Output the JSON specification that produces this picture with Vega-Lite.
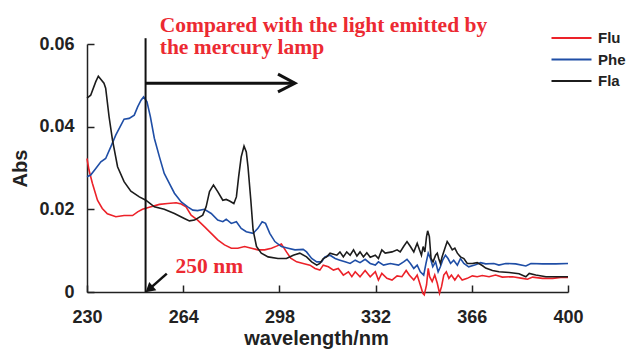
{
  "$schema": "https://vega.github.io/schema/vega-lite/v6.json",
  "width": 481,
  "height": 248,
  "autosize": {"type": "none"},
  "padding": {"left": 87, "top": 44, "right": 59, "bottom": 58},
  "background": "white",
  "config": {
    "view": {"stroke": null},
    "axis": {
      "grid": false, "domainColor": "#222", "domainWidth": 1.5, "tickColor": "#222", "tickWidth": 1.5, "tickSize": -7,
      "labelFlush": false, "labelOverlap": false,
      "labelFont": "Liberation Sans", "labelFontWeight": "bold", "labelFontSize": 18, "labelColor": "#222",
      "titleFont": "Liberation Sans", "titleFontWeight": "bold", "titleFontSize": 20, "titleColor": "#222"
    },
    "legend": {
      "orient": "none", "legendX": 477, "legendY": -13.5, "title": null, "symbolType": "M-5,0H5", "symbolSize": 64,
      "symbolStrokeWidth": 2, "symbolFillColor": "transparent", "labelFont": "Liberation Sans", "labelFontWeight": "bold", "labelFontSize": 15,
      "labelColor": "#222", "labelOffset": 19, "rowPadding": 5.5, "padding": 0
    }
  },
  "encoding": {
    "x": {"field": "wl", "type": "quantitative", "scale": {"domain": [230, 400], "nice": false, "zero": false},
      "axis": {"values": [230, 264, 298, 332, 366, 400], "title": "wavelength/nm", "labelPadding": 23, "titlePadding": 2, "titleX": 229}},
    "y": {"field": "abs", "type": "quantitative", "scale": {"domain": [0, 0.06], "nice": false},
      "axis": {"values": [0, 0.02, 0.04, 0.06], "labelExpr": "datum.value == 0 ? '0' : format(datum.value, '.2f')", "title": "Abs", "titlePadding": 8, "labelPadding": 20}}
  },
  "layer": [
    {
      "data": {"values": [
        {"series":"Flu","wl":230.0,"abs":0.0323},{"series":"Flu","wl":230.7,"abs":0.0295},{"series":"Flu","wl":231.9,"abs":0.0263},{"series":"Flu","wl":233.7,"abs":0.0222},{"series":"Flu","wl":235.4,"abs":0.0202},{"series":"Flu","wl":237.2,"abs":0.0189},{"series":"Flu","wl":240.2,"abs":0.0182},{"series":"Flu","wl":243.1,"abs":0.0185},{"series":"Flu","wl":246.1,"abs":0.0185},{"series":"Flu","wl":247.9,"abs":0.0194},{"series":"Flu","wl":249.6,"abs":0.0200},{"series":"Flu","wl":252.6,"abs":0.0206},{"series":"Flu","wl":255.6,"abs":0.0212},{"series":"Flu","wl":258.5,"abs":0.0214},{"series":"Flu","wl":261.5,"abs":0.0216},{"series":"Flu","wl":263.3,"abs":0.0213},{"series":"Flu","wl":265.0,"abs":0.0206},{"series":"Flu","wl":266.8,"abs":0.0186},{"series":"Flu","wl":269.1,"abs":0.0174},{"series":"Flu","wl":271.5,"abs":0.0158},{"series":"Flu","wl":273.9,"abs":0.0142},{"series":"Flu","wl":276.2,"abs":0.0126},{"series":"Flu","wl":278.6,"abs":0.0114},{"series":"Flu","wl":281.0,"abs":0.0106},{"series":"Flu","wl":283.3,"abs":0.0106},{"series":"Flu","wl":285.7,"abs":0.0110},{"series":"Flu","wl":288.1,"abs":0.0106},{"series":"Flu","wl":290.4,"abs":0.0102},{"series":"Flu","wl":292.8,"abs":0.0102},{"series":"Flu","wl":295.2,"abs":0.0106},{"series":"Flu","wl":297.0,"abs":0.0111},{"series":"Flu","wl":298.7,"abs":0.0116},{"series":"Flu","wl":300.5,"abs":0.0097},{"series":"Flu","wl":302.0,"abs":0.0082},{"series":"Flu","wl":304.1,"abs":0.0073},{"series":"Flu","wl":306.4,"abs":0.0069},{"series":"Flu","wl":308.8,"abs":0.0065},{"series":"Flu","wl":310.6,"abs":0.0057},{"series":"Flu","wl":312.3,"abs":0.0053},{"series":"Flu","wl":313.5,"abs":0.0065},{"series":"Flu","wl":315.3,"abs":0.0061},{"series":"Flu","wl":317.1,"abs":0.0053},{"series":"Flu","wl":318.8,"abs":0.0057},{"series":"Flu","wl":320.6,"abs":0.0041},{"series":"Flu","wl":322.4,"abs":0.0049},{"series":"Flu","wl":323.6,"abs":0.0037},{"series":"Flu","wl":324.8,"abs":0.0049},{"series":"Flu","wl":326.5,"abs":0.0037},{"series":"Flu","wl":328.3,"abs":0.0052},{"series":"Flu","wl":330.1,"abs":0.0037},{"series":"Flu","wl":331.9,"abs":0.0049},{"series":"Flu","wl":333.0,"abs":0.0029},{"series":"Flu","wl":334.2,"abs":0.0045},{"series":"Flu","wl":336.0,"abs":0.0033},{"series":"Flu","wl":337.8,"abs":0.0029},{"series":"Flu","wl":339.6,"abs":0.0039},{"series":"Flu","wl":341.3,"abs":0.0037},{"series":"Flu","wl":342.8,"abs":0.0052},{"series":"Flu","wl":343.9,"abs":0.0041},{"series":"Flu","wl":345.5,"abs":0.0029},{"series":"Flu","wl":346.7,"abs":0.0041},{"series":"Flu","wl":347.8,"abs":0.0017},{"series":"Flu","wl":348.7,"abs":-0.0003},{"series":"Flu","wl":349.2,"abs":-0.0007},{"series":"Flu","wl":350.0,"abs":0.0017},{"series":"Flu","wl":350.6,"abs":0.0057},{"series":"Flu","wl":351.1,"abs":0.0037},{"series":"Flu","wl":352.0,"abs":0.0025},{"series":"Flu","wl":352.9,"abs":0.0041},{"series":"Flu","wl":353.8,"abs":0.0021},{"series":"Flu","wl":354.6,"abs":-0.0003},{"series":"Flu","wl":355.3,"abs":0.0013},{"series":"Flu","wl":356.1,"abs":0.0041},{"series":"Flu","wl":357.0,"abs":0.0049},{"series":"Flu","wl":357.9,"abs":0.0033},{"series":"Flu","wl":358.8,"abs":0.0041},{"series":"Flu","wl":360.0,"abs":0.0029},{"series":"Flu","wl":361.2,"abs":0.0041},{"series":"Flu","wl":362.6,"abs":0.0029},{"series":"Flu","wl":364.4,"abs":0.0033},{"series":"Flu","wl":366.2,"abs":0.0039},{"series":"Flu","wl":367.9,"abs":0.0037},{"series":"Flu","wl":369.7,"abs":0.0040},{"series":"Flu","wl":372.1,"abs":0.0037},{"series":"Flu","wl":374.4,"abs":0.0041},{"series":"Flu","wl":376.8,"abs":0.0036},{"series":"Flu","wl":380.4,"abs":0.0037},{"series":"Flu","wl":383.9,"abs":0.0033},{"series":"Flu","wl":385.7,"abs":0.0031},{"series":"Flu","wl":387.5,"abs":0.0036},{"series":"Flu","wl":391.0,"abs":0.0033},{"series":"Flu","wl":394.6,"abs":0.0033},{"series":"Flu","wl":398.1,"abs":0.0036},{"series":"Flu","wl":400.0,"abs":0.0035},
        {"series":"Phe","wl":230.0,"abs":0.0279},{"series":"Phe","wl":231.3,"abs":0.0283},{"series":"Phe","wl":233.1,"abs":0.0299},{"series":"Phe","wl":234.9,"abs":0.0315},{"series":"Phe","wl":236.6,"abs":0.0323},{"series":"Phe","wl":238.4,"abs":0.0351},{"series":"Phe","wl":240.2,"abs":0.0380},{"series":"Phe","wl":242.0,"abs":0.0404},{"series":"Phe","wl":243.1,"abs":0.0418},{"series":"Phe","wl":244.9,"abs":0.0420},{"series":"Phe","wl":246.7,"abs":0.0428},{"series":"Phe","wl":247.9,"abs":0.0448},{"series":"Phe","wl":249.1,"abs":0.0464},{"series":"Phe","wl":250.0,"abs":0.0472},{"series":"Phe","wl":251.2,"abs":0.0460},{"series":"Phe","wl":252.4,"abs":0.0424},{"series":"Phe","wl":253.8,"abs":0.0372},{"series":"Phe","wl":255.6,"abs":0.0327},{"series":"Phe","wl":257.3,"abs":0.0287},{"series":"Phe","wl":259.1,"abs":0.0263},{"series":"Phe","wl":260.9,"abs":0.0239},{"series":"Phe","wl":263.3,"abs":0.0218},{"series":"Phe","wl":265.6,"abs":0.0206},{"series":"Phe","wl":267.4,"abs":0.0198},{"series":"Phe","wl":269.1,"abs":0.0197},{"series":"Phe","wl":271.5,"abs":0.0200},{"series":"Phe","wl":273.9,"abs":0.0190},{"series":"Phe","wl":276.2,"abs":0.0174},{"series":"Phe","wl":278.0,"abs":0.0170},{"series":"Phe","wl":279.2,"abs":0.0176},{"series":"Phe","wl":281.0,"abs":0.0166},{"series":"Phe","wl":282.8,"abs":0.0170},{"series":"Phe","wl":284.5,"abs":0.0154},{"series":"Phe","wl":286.3,"abs":0.0146},{"series":"Phe","wl":288.7,"abs":0.0142},{"series":"Phe","wl":290.4,"abs":0.0154},{"series":"Phe","wl":291.9,"abs":0.0170},{"series":"Phe","wl":293.1,"abs":0.0166},{"series":"Phe","wl":294.6,"abs":0.0142},{"series":"Phe","wl":296.4,"abs":0.0122},{"series":"Phe","wl":298.7,"abs":0.0110},{"series":"Phe","wl":301.1,"abs":0.0106},{"series":"Phe","wl":303.5,"abs":0.0102},{"series":"Phe","wl":306.4,"abs":0.0103},{"series":"Phe","wl":307.6,"abs":0.0097},{"series":"Phe","wl":309.4,"abs":0.0081},{"series":"Phe","wl":311.2,"abs":0.0073},{"series":"Phe","wl":312.9,"abs":0.0073},{"series":"Phe","wl":314.1,"abs":0.0085},{"series":"Phe","wl":315.9,"abs":0.0089},{"series":"Phe","wl":317.7,"abs":0.0081},{"series":"Phe","wl":319.4,"abs":0.0077},{"series":"Phe","wl":321.2,"abs":0.0073},{"series":"Phe","wl":323.0,"abs":0.0069},{"series":"Phe","wl":324.8,"abs":0.0077},{"series":"Phe","wl":326.5,"abs":0.0071},{"series":"Phe","wl":328.3,"abs":0.0079},{"series":"Phe","wl":330.1,"abs":0.0069},{"series":"Phe","wl":331.9,"abs":0.0065},{"series":"Phe","wl":333.0,"abs":0.0073},{"series":"Phe","wl":334.8,"abs":0.0065},{"series":"Phe","wl":337.2,"abs":0.0069},{"series":"Phe","wl":340.1,"abs":0.0065},{"series":"Phe","wl":341.9,"abs":0.0073},{"series":"Phe","wl":343.1,"abs":0.0079},{"series":"Phe","wl":344.3,"abs":0.0069},{"series":"Phe","wl":345.5,"abs":0.0057},{"series":"Phe","wl":346.7,"abs":0.0065},{"series":"Phe","wl":347.8,"abs":0.0049},{"series":"Phe","wl":349.0,"abs":0.0041},{"series":"Phe","wl":349.8,"abs":0.0069},{"series":"Phe","wl":350.6,"abs":0.0094},{"series":"Phe","wl":351.4,"abs":0.0081},{"series":"Phe","wl":352.2,"abs":0.0061},{"series":"Phe","wl":353.2,"abs":0.0073},{"series":"Phe","wl":354.1,"abs":0.0049},{"series":"Phe","wl":354.9,"abs":0.0061},{"series":"Phe","wl":355.7,"abs":0.0077},{"series":"Phe","wl":356.7,"abs":0.0089},{"series":"Phe","wl":357.6,"abs":0.0081},{"series":"Phe","wl":358.5,"abs":0.0069},{"series":"Phe","wl":359.6,"abs":0.0077},{"series":"Phe","wl":360.9,"abs":0.0065},{"series":"Phe","wl":362.0,"abs":0.0081},{"series":"Phe","wl":363.2,"abs":0.0069},{"series":"Phe","wl":364.9,"abs":0.0061},{"series":"Phe","wl":367.3,"abs":0.0066},{"series":"Phe","wl":369.1,"abs":0.0071},{"series":"Phe","wl":370.9,"abs":0.0068},{"series":"Phe","wl":373.8,"abs":0.0069},{"series":"Phe","wl":375.6,"abs":0.0065},{"series":"Phe","wl":378.0,"abs":0.0069},{"series":"Phe","wl":381.5,"abs":0.0068},{"series":"Phe","wl":385.1,"abs":0.0063},{"series":"Phe","wl":386.9,"abs":0.0069},{"series":"Phe","wl":391.0,"abs":0.0068},{"series":"Phe","wl":395.7,"abs":0.0068},{"series":"Phe","wl":400.0,"abs":0.0069},
        {"series":"Fla","wl":230.0,"abs":0.0469},{"series":"Fla","wl":231.3,"abs":0.0476},{"series":"Fla","wl":233.1,"abs":0.0509},{"series":"Fla","wl":234.0,"abs":0.0522},{"series":"Fla","wl":236.0,"abs":0.0505},{"series":"Fla","wl":236.6,"abs":0.0493},{"series":"Fla","wl":237.8,"abs":0.0424},{"series":"Fla","wl":239.0,"abs":0.0368},{"series":"Fla","wl":240.8,"abs":0.0303},{"series":"Fla","wl":243.1,"abs":0.0267},{"series":"Fla","wl":245.5,"abs":0.0244},{"series":"Fla","wl":248.5,"abs":0.0230},{"series":"Fla","wl":250.8,"abs":0.0222},{"series":"Fla","wl":253.8,"abs":0.0206},{"series":"Fla","wl":257.3,"abs":0.0200},{"series":"Fla","wl":260.9,"abs":0.0190},{"series":"Fla","wl":264.4,"abs":0.0178},{"series":"Fla","wl":266.2,"abs":0.0172},{"series":"Fla","wl":268.0,"abs":0.0174},{"series":"Fla","wl":270.9,"abs":0.0186},{"series":"Fla","wl":272.1,"abs":0.0206},{"series":"Fla","wl":273.3,"abs":0.0243},{"series":"Fla","wl":274.7,"abs":0.0259},{"series":"Fla","wl":276.2,"abs":0.0243},{"series":"Fla","wl":278.0,"abs":0.0222},{"series":"Fla","wl":279.2,"abs":0.0224},{"series":"Fla","wl":280.4,"abs":0.0220},{"series":"Fla","wl":281.9,"abs":0.0214},{"series":"Fla","wl":282.8,"abs":0.0230},{"series":"Fla","wl":283.6,"abs":0.0279},{"series":"Fla","wl":284.5,"abs":0.0327},{"series":"Fla","wl":285.5,"abs":0.0353},{"series":"Fla","wl":286.3,"abs":0.0339},{"series":"Fla","wl":286.9,"abs":0.0303},{"series":"Fla","wl":287.9,"abs":0.0222},{"series":"Fla","wl":288.7,"abs":0.0150},{"series":"Fla","wl":289.9,"abs":0.0110},{"series":"Fla","wl":291.6,"abs":0.0094},{"series":"Fla","wl":294.0,"abs":0.0085},{"series":"Fla","wl":297.5,"abs":0.0081},{"series":"Fla","wl":300.5,"abs":0.0081},{"series":"Fla","wl":302.9,"abs":0.0089},{"series":"Fla","wl":305.2,"abs":0.0094},{"series":"Fla","wl":307.6,"abs":0.0085},{"series":"Fla","wl":309.4,"abs":0.0073},{"series":"Fla","wl":311.2,"abs":0.0065},{"series":"Fla","wl":312.3,"abs":0.0069},{"series":"Fla","wl":313.5,"abs":0.0081},{"series":"Fla","wl":314.7,"abs":0.0085},{"series":"Fla","wl":315.9,"abs":0.0094},{"series":"Fla","wl":318.3,"abs":0.0089},{"series":"Fla","wl":319.4,"abs":0.0097},{"series":"Fla","wl":320.6,"abs":0.0085},{"series":"Fla","wl":321.8,"abs":0.0097},{"series":"Fla","wl":323.0,"abs":0.0089},{"series":"Fla","wl":324.2,"abs":0.0102},{"series":"Fla","wl":325.4,"abs":0.0087},{"series":"Fla","wl":326.5,"abs":0.0097},{"series":"Fla","wl":327.7,"abs":0.0085},{"series":"Fla","wl":328.9,"abs":0.0095},{"series":"Fla","wl":330.1,"abs":0.0084},{"series":"Fla","wl":331.9,"abs":0.0089},{"series":"Fla","wl":333.0,"abs":0.0081},{"series":"Fla","wl":334.2,"abs":0.0102},{"series":"Fla","wl":335.4,"abs":0.0094},{"series":"Fla","wl":337.8,"abs":0.0097},{"series":"Fla","wl":339.6,"abs":0.0102},{"series":"Fla","wl":340.7,"abs":0.0097},{"series":"Fla","wl":341.9,"abs":0.0110},{"series":"Fla","wl":343.1,"abs":0.0122},{"series":"Fla","wl":344.3,"abs":0.0110},{"series":"Fla","wl":345.5,"abs":0.0097},{"series":"Fla","wl":346.7,"abs":0.0118},{"series":"Fla","wl":347.5,"abs":0.0102},{"series":"Fla","wl":348.2,"abs":0.0089},{"series":"Fla","wl":348.8,"abs":0.0110},{"series":"Fla","wl":349.4,"abs":0.0097},{"series":"Fla","wl":350.0,"abs":0.0134},{"series":"Fla","wl":350.4,"abs":0.0148},{"series":"Fla","wl":351.0,"abs":0.0134},{"series":"Fla","wl":351.6,"abs":0.0081},{"series":"Fla","wl":352.3,"abs":0.0073},{"series":"Fla","wl":353.2,"abs":0.0089},{"series":"Fla","wl":353.8,"abs":0.0094},{"series":"Fla","wl":354.3,"abs":0.0081},{"series":"Fla","wl":354.9,"abs":0.0069},{"series":"Fla","wl":355.5,"abs":0.0085},{"series":"Fla","wl":356.5,"abs":0.0106},{"series":"Fla","wl":357.3,"abs":0.0122},{"series":"Fla","wl":358.1,"abs":0.0114},{"series":"Fla","wl":359.1,"abs":0.0102},{"series":"Fla","wl":360.0,"abs":0.0106},{"series":"Fla","wl":360.9,"abs":0.0094},{"series":"Fla","wl":362.0,"abs":0.0085},{"series":"Fla","wl":363.2,"abs":0.0081},{"series":"Fla","wl":364.4,"abs":0.0069},{"series":"Fla","wl":366.2,"abs":0.0069},{"series":"Fla","wl":367.9,"abs":0.0071},{"series":"Fla","wl":369.7,"abs":0.0064},{"series":"Fla","wl":370.9,"abs":0.0058},{"series":"Fla","wl":373.3,"abs":0.0052},{"series":"Fla","wl":375.6,"abs":0.0049},{"series":"Fla","wl":379.2,"abs":0.0047},{"series":"Fla","wl":382.7,"abs":0.0044},{"series":"Fla","wl":385.1,"abs":0.0037},{"series":"Fla","wl":386.3,"abs":0.0045},{"series":"Fla","wl":388.6,"abs":0.0041},{"series":"Fla","wl":392.2,"abs":0.0037},{"series":"Fla","wl":395.7,"abs":0.0037},{"series":"Fla","wl":400.0,"abs":0.0037}
      ]},
      "mark": {"type": "line", "strokeWidth": 1.6},
      "encoding": {
        "color": {"field": "series", "type": "nominal", "scale": {"domain": ["Flu", "Phe", "Fla"], "range": ["#ec2229", "#1f4ea6", "#1c1c1c"]}}
      }
    },
    {
      "data": {"values": [{"wl": 250.7, "abs": 0, "wl2": 250.7, "abs2": 0.0614}]},
      "mark": {"type": "rule", "color": "#111", "strokeWidth": 2},
      "encoding": {"x2": {"field": "wl2"}, "y2": {"field": "abs2"}}
    },
    {
      "data": {"values": [{"wl": 250.7, "abs": 0.0505, "wl2": 303.3, "abs2": 0.0505}]},
      "mark": {"type": "rule", "color": "#111", "strokeWidth": 3},
      "encoding": {"x2": {"field": "wl2"}, "y2": {"field": "abs2"}}
    },
    {
      "data": {"values": [{"wl": 297.5, "abs": 0.0527, "k": 1}, {"wl": 303.5, "abs": 0.0505, "k": 2}, {"wl": 297.5, "abs": 0.0484, "k": 3}]},
      "mark": {"type": "line", "color": "#111", "strokeWidth": 3, "strokeJoin": "miter"},
      "encoding": {"order": {"field": "k", "type": "quantitative"}}
    },
    {
      "data": {"values": [{"wl": 258.2, "abs": 0.00446, "wl2": 252.4, "abs2": 0.00094}]},
      "mark": {"type": "rule", "color": "#111", "strokeWidth": 2.5},
      "encoding": {"x2": {"field": "wl2"}, "y2": {"field": "abs2"}}
    },
    {
      "data": {"values": [{"wl": 252.4, "abs": 0.00094}]},
      "mark": {"type": "point", "shape": "triangle", "filled": true, "opacity": 1, "color": "#111", "size": 120, "angle": 229.5},
      "encoding": {}
    },
    {
      "data": {"values": [
        {"wl": 255.7, "abs": 0.0630, "txt": "Compared with the light emitted by"},
        {"wl": 255.7, "abs": 0.0576, "txt": "the mercury lamp"},
        {"wl": 261.3, "abs": 0.0047, "txt": "250 nm"}
      ]},
      "mark": {"type": "text", "align": "left", "baseline": "alphabetic", "font": "Liberation Serif", "fontWeight": "bold", "fontSize": 21.5, "color": "#ec2a32"},
      "encoding": {"text": {"field": "txt"}}
    }
  ]
}
